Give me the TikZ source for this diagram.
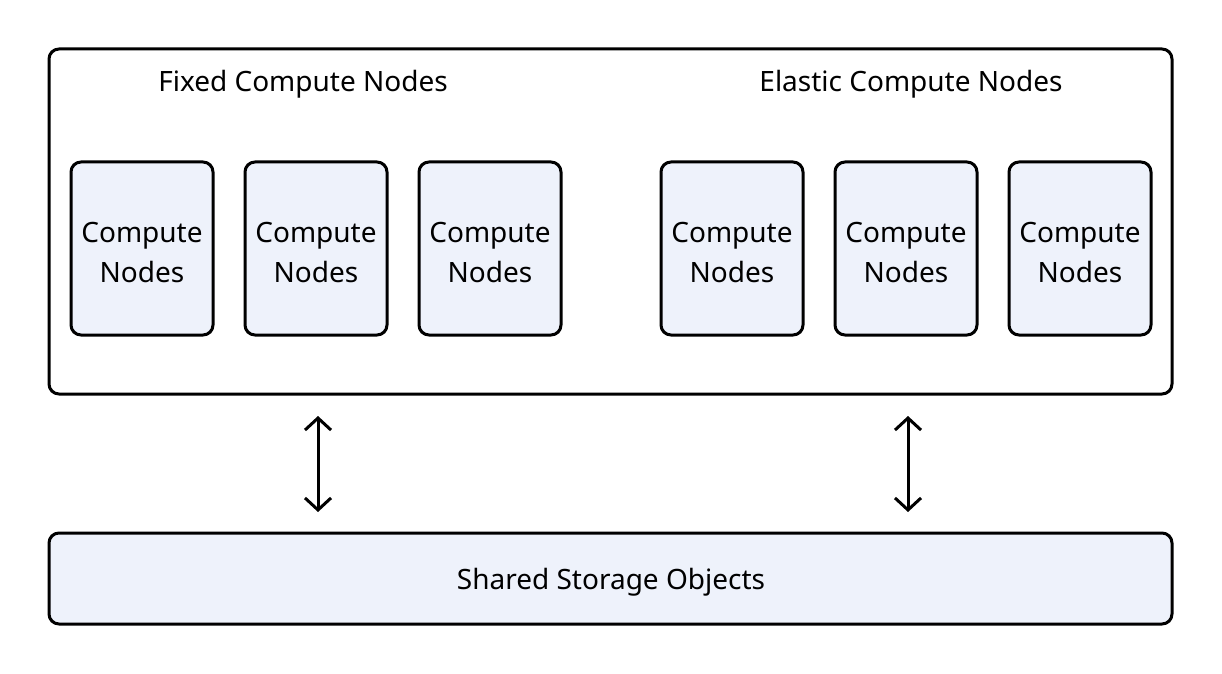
\documentclass[tikz,border=0pt]{standalone}
\usepackage{fontspec}
\setmainfont{Noto Sans}
\usetikzlibrary{arrows.meta}
\definecolor{boxfill}{HTML}{EEF2FB}
\begin{document}
\begin{tikzpicture}[x=0.5pt,y=-0.5pt,
  box/.style={draw=black,line width=1.5pt,rounded corners=5pt,fill=boxfill},
  lbl/.style={font=\fontsize{14}{20}\selectfont,align=center},
  arr/.style={{Straight Barb[length=6pt,width=13pt,line width=1.5pt]}-{Straight Barb[length=6pt,width=13pt,line width=1.5pt]},line width=1.5pt}]
\useasboundingbox (0,0) rectangle (1222,674);
\draw[line width=1.5pt,rounded corners=5pt] (49,49) rectangle (1172,394);
\node[lbl] (fl) at (303,84) {Fixed Compute Nodes};
\node[lbl] (el) at (911,84) {Elastic Compute Nodes};
\foreach \x [count=\i] in {71,245,419,661,835,1009}{
  \draw[box] (\x,162) rectangle ++(142,173);
  \node[lbl] (c\i) at (\x+71,253) {Compute\\Nodes};
}
\draw[box] (49,533) rectangle (1172,624);
\node[lbl] (s) at (611,582) {Shared Storage Objects};
\coordinate (a1) at (318,416); \coordinate (b1) at (318,512);
\coordinate (a2) at (908,416); \coordinate (b2) at (908,512);
\draw[arr] (a1) -- (b1);
\draw[arr] (a2) -- (b2);
\end{tikzpicture}
\end{document}
